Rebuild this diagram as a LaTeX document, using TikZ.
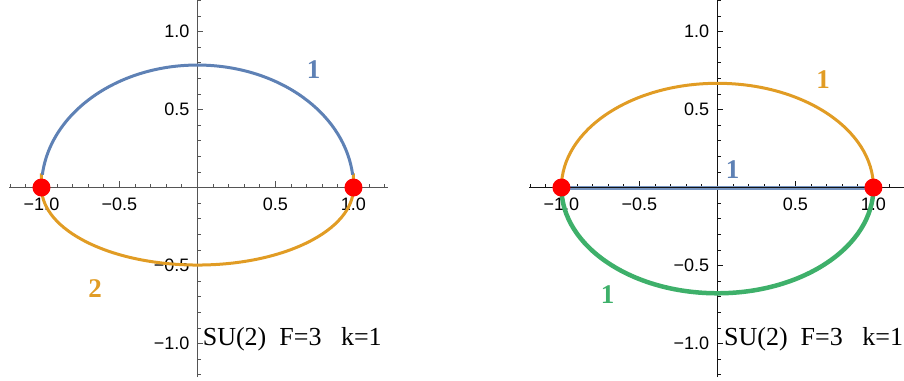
\documentclass[tikz,border=0pt]{standalone}
\usepackage{fontspec}
\setmainfont{Liberation Serif}
\newfontfamily\ticksf{Liberation Sans}
\definecolor{mblue}{RGB}{94,129,181}
\definecolor{morange}{RGB}{225,156,36}
\definecolor{mgreen}{RGB}{62,176,106}
\definecolor{axcolL}{RGB}{85,85,85}
\definecolor{axcolR}{RGB}{20,20,20}
\begin{document}
\begin{tikzpicture}[x=156pt,y=156pt,
  tickl/.style={font=\ticksf\fontsize{18}{18}\selectfont, inner sep=0pt, text=black},
  curve/.style={line width=3pt},
  numlab/.style={font=\bfseries\fontsize{27}{27}\selectfont, inner sep=0pt},
  dot/.style={circle, fill=red, minimum size=18pt, inner sep=0pt},
  infotext/.style={anchor=base west, inner sep=0pt, font=\fontsize{26}{26}\selectfont}]
\useasboundingbox (-1.266,-1.240) rectangle (4.529,1.202);

% axes for both panels
\foreach \ox/\nm/\ac/\aw in {0/L/axcolL/1.2pt, 3.333/R/axcolR/0.9pt}{
 \begin{scope}[shift={(\ox,0)}]
  \draw[\ac, line width=\aw] (-1.206,0) -- (1.22,0);
  \draw[\ac, line width=\aw] (0,-1.215) -- (0,1.2);
  \foreach \t in {-1.2,-1.1,-0.9,-0.8,-0.7,-0.6,-0.4,-0.3,-0.2,-0.1,0.1,0.2,0.3,0.4,0.6,0.7,0.8,0.9,1.1,1.2}{
    \draw[\ac, line width=0.8pt] (\t,0) -- ++(0,4pt);
    \draw[\ac, line width=0.8pt] (0,\t) -- ++(3.5pt,0);
  }
  \foreach \t in {-1,-0.5,0.5,1}{
    \draw[\ac, line width=0.8pt] (\t,0) -- ++(0,7pt);
    \draw[\ac, line width=0.8pt] (0,\t) -- ++(6pt,0);
  }
  \foreach \v/\s [count=\i] in {-1/{−1.0},-0.5/{−0.5},0.5/{0.5},1/{1.0}}{
    \node[tickl] (xt\nm\i) at ([yshift=-17pt]\v,0) {\s};
    \node[tickl, anchor=east] (yt\nm\i) at ([xshift=-8pt]0,\v) {\s};
  }
 \end{scope}
}

% left panel
\draw[curve, morange] (-1,0.09) -- (-1,0) arc[start angle=180, end angle=360, x radius=1, y radius=0.497] -- (1,0.09);
\draw[curve, mblue] ({cos(174)},{0.785*sin(174)}) arc[start angle=174, end angle=6, x radius=1, y radius=0.785];
\node[numlab, mblue] (labL1) at (0.744,0.753) {1};
\node[numlab, morange] (labL2) at (-0.657,-0.646) {2};
\node[infotext] (infoL) at (0.033,-1.01) {SU(2)\ \ F=3\ \ \ k=1};
\node[dot] (dotL1) at (-1,0) {};
\node[dot] (dotL2) at (1,0) {};

% right panel
\begin{scope}[shift={(3.333,0)}]
\draw[curve, morange] (-1,0) arc[start angle=180, end angle=0, x radius=1, y radius=0.668];
\draw[line width=4.5pt, mgreen] (-1,0) arc[start angle=180, end angle=360, x radius=1, y radius=0.678];
\coordinate (bA) at (-1,0);
\coordinate (bB) at (1,0);
\draw[line width=4pt, mblue!85] (bA) -- (bB);
\draw[axcolR, line width=1pt] (bA) -- (bB);
\node[numlab, morange] (labR1) at (0.678,0.689) {1};
\node[numlab, mblue] (labR2) at (0.097,0.112) {1};
\node[numlab, mgreen] (labR3) at (-0.704,-0.689) {1};
\node[infotext] (infoR) at (0.042,-1.01) {SU(2)\ \ F=3\ \ \ k=1};
\node[dot] (dotR1) at (-1,0) {};
\node[dot] (dotR2) at (1,0) {};
\end{scope}
\end{tikzpicture}
\end{document}
